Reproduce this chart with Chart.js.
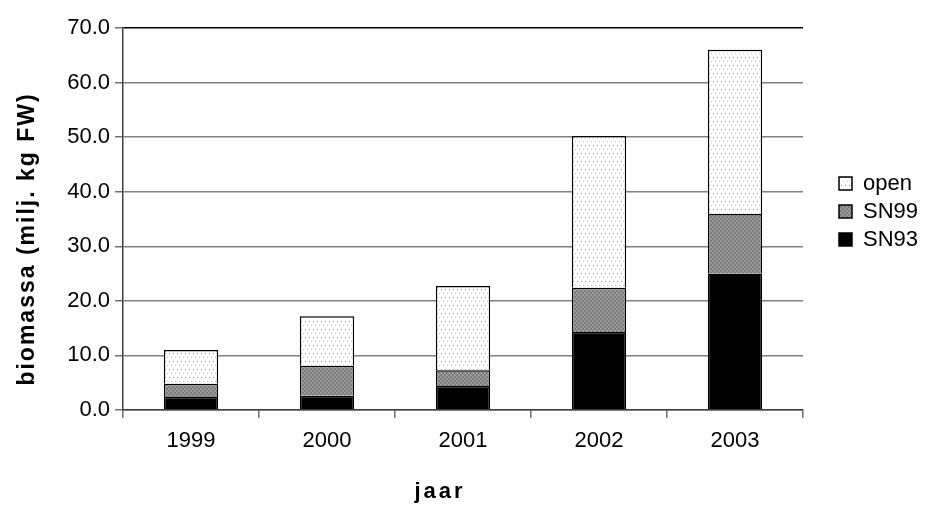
<!DOCTYPE html>
<html>
<head>
<meta charset="utf-8">
<script src="https://cdn.jsdelivr.net/npm/chart.js@4"></script>
<style>
  html, body { margin: 0; padding: 0; background: #fff; }
  #wrap { width: 931px; height: 507px; }
</style>
</head>
<body>
<div id="wrap"><canvas id="biomassChart"></canvas></div>
<script>
const years = ['1999', '2000', '2001', '2002', '2003'];
const sn93 = [2.4, 2.6, 4.4, 14.3, 25.0];
const sn99 = [2.4, 5.5, 2.9, 8.1, 10.9];
const open = [6.2, 9.1, 15.4, 27.8, 30.1];

// fill patterns like the old excel ones
function makePattern(size, draw) {
    const c = document.createElement('canvas');
    c.width = size;
    c.height = size;
    const g = c.getContext('2d');
    draw(g);
    return g.createPattern(c, 'repeat');
}

const dotted = makePattern(8, g => {
    g.fillStyle = '#ffffff';
    g.fillRect(0, 0, 8, 8);
    g.fillStyle = '#8c8c8c';
    g.fillRect(1, 1, 1, 1);
    g.fillRect(5, 1, 1, 1);
    g.fillStyle = '#c8c8c8';
    g.fillRect(3, 5, 1, 1);
    g.fillRect(7, 5, 1, 1);
});

const checker = makePattern(4, g => {
    g.fillStyle = '#7c7c7c';
    g.fillRect(0, 0, 4, 4);
    g.fillStyle = '#9a9a9a';
    g.fillRect(0, 0, 2, 2);
    g.fillRect(2, 2, 2, 2);
});

const tickFont = { family: 'Liberation Sans, Arial, sans-serif', size: 22 };
const titleFont = { family: 'Liberation Sans, Arial, sans-serif', size: 22, weight: 'bold' };
const yTitleFont = { family: 'Liberation Sans, Arial, sans-serif', size: 23, weight: 'bold' };

// legend box width/offset + spaced axis titles
const layoutTweak = {
    id: 'layoutTweak',
    beforeUpdate(chart) {
        const lg = chart.legend;
        if (lg && !lg._patched) {
            const fit = lg.fit;
            lg.fit = function () {
                fit.call(this);
                this.width = 128;
            };
            lg._patched = true;
        }
    },
    afterLayout(chart) {
        const lg = chart.legend;
        lg.left += 30;
        lg.right += 30;
        lg.top -= 56;
        lg.bottom -= 56;

        const tweaks = { x: [-23, 0, '3px'], y: [0, 20, '2px'] };
        Object.keys(tweaks).forEach(id => {
            const scale = chart.scales[id];
            if (scale._patched) return;
            const draw = scale.drawTitle;
            scale.drawTitle = function () {
                const c = this.ctx;
                c.save();
                c.letterSpacing = tweaks[id][2];
                c.translate(tweaks[id][0], tweaks[id][1]);
                draw.call(this);
                c.restore();
            };
            scale._patched = true;
        });
    }
};

const ctx = document.getElementById('biomassChart').getContext('2d');
new Chart(ctx, {
    type: 'bar',
    data: {
        labels: years,
        datasets: [
            { label: 'SN93', data: sn93, backgroundColor: '#000000' },
            { label: 'SN99', data: sn99, backgroundColor: checker },
            { label: 'open', data: open, backgroundColor: dotted }
        ]
    },
    plugins: [layoutTweak],
    options: {
        responsive: true,
        maintainAspectRatio: false,
        animation: false,
        layout: { padding: { top: 28, right: 0, bottom: 0, left: 0 } },
        datasets: {
            bar: {
                borderColor: '#000000',
                borderWidth: 1.5,
                categoryPercentage: 0.4,
                barPercentage: 1.0
            }
        },
        plugins: {
            legend: {
                position: 'right',
                reverse: true,
                labels: {
                    boxWidth: 13,
                    boxHeight: 13,
                    padding: 6,
                    color: '#000',
                    font: tickFont
                }
            },
            tooltip: { enabled: false }
        },
        scales: {
            x: {
                stacked: true,
                afterFit: scale => { scale.height = 97; },
                border: { color: '#404040', width: 1.5 },
                grid: {
                    offset: true,
                    tickLength: 8,
                    tickColor: '#707070',
                    color: c => (c.index === years.length ? '#808080' : 'rgba(0,0,0,0)'),
                    lineWidth: 1.5
                },
                ticks: { color: '#000', font: tickFont, padding: 10 },
                title: {
                    display: true,
                    text: 'jaar',
                    color: '#000',
                    font: titleFont,
                    padding: { top: 0, bottom: 2 }
                }
            },
            y: {
                stacked: true,
                min: 0,
                max: 70,
                afterFit: scale => { scale.width = 123; },
                border: { color: '#404040', width: 1.5 },
                grid: {
                    tickLength: 8,
                    tickColor: '#707070',
                    color: c => (c.tick && c.tick.value === 70 ? '#000000' : '#808080'),
                    lineWidth: 1.5
                },
                ticks: {
                    stepSize: 10,
                    color: '#000',
                    font: tickFont,
                    padding: 5,
                    callback: v => v.toFixed(1)
                },
                title: {
                    display: true,
                    text: 'biomassa (milj. kg FW)',
                    color: '#000',
                    font: yTitleFont,
                    padding: { top: 14, bottom: 0 }
                }
            }
        }
    }
});
</script>
</body>
</html>
